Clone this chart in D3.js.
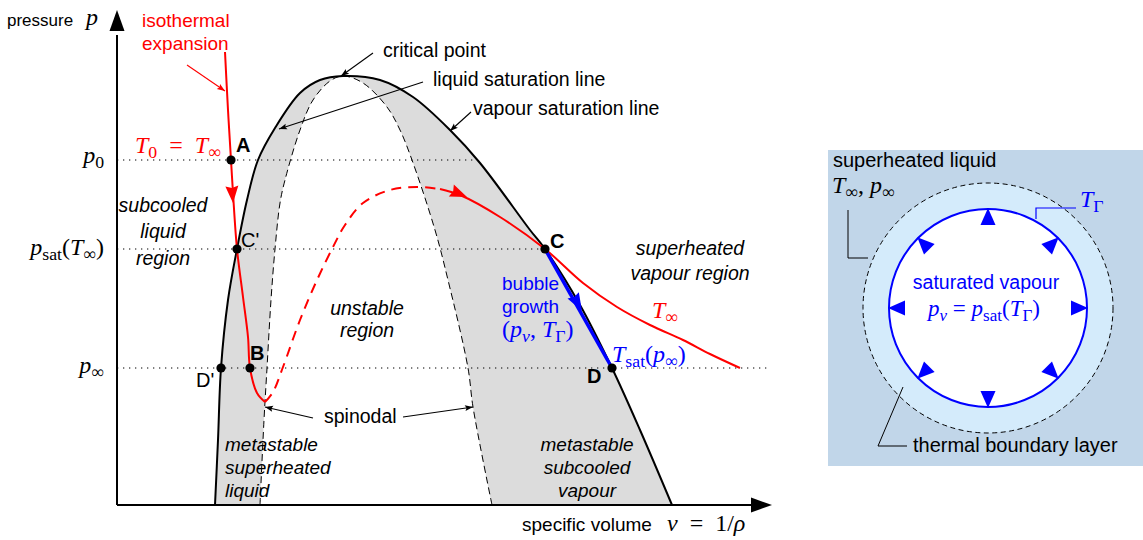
<!DOCTYPE html>
<html><head><meta charset="utf-8">
<script src="https://cdn.jsdelivr.net/npm/d3@7/dist/d3.min.js"></script>
<style>html,body{margin:0;padding:0;background:#fff;} svg{display:block;} text{white-space:pre;}</style>
</head><body>
<svg id="chart" width="1143" height="540"></svg>
<script>
// ---------------- data: specific volume v, pressure p (arbitrary units) ----------------
const saturationDome = [[98,0],[101,65],[104,137],[111,205],[120,256],[130,305],[141,345],[158,377],[183,412],[203,425],[226,429],[263,425],[296,408],[333,375],[363,342],[413,275],[428,256],[463,200],[495,137],[523,75],[555,0]];
const spinodal = [[143,0],[147,85],[150,137],[154,205],[158,256],[163,302],[168,325],[183,375],[196,405],[213,424],[226,429],[246,422],[270,398],[283,375],[295,345],[318,275],[331,225],[351,137],[356,98],[375,0]];
const isothermLiquid = [[108,453],[111,395],[114,345],[116,312],[120,256],[126,208],[131,168],[133,137],[140,112],[148,103]];
const isothermUnstable = [[148,103],[156,113],[166,138],[183,185],[200,225],[216,258],[228,280],[246,302],[273,315],[300,318],[323,316]];
const isothermVapour = [[323,316],[343,310],[383,288],[428,256],[466,222],[500,198],[533,180],[566,165],[593,151],[623,137]];
const bubbleGrowth = [[428,256],[495,137]];
const pressureLevels = [
  {name:"p0",   p:345, vEnd:360},
  {name:"psat", p:256, vEnd:428},
  {name:"pinf", p:137, vEnd:653}
];
const statePoints = [
  {id:"A",  v:114, p:345}, {id:"C'", v:120, p:256}, {id:"C", v:428, p:256},
  {id:"D'", v:104, p:137}, {id:"B",  v:133, p:137}, {id:"D", v:495, p:137}
];
const bubbleArrowAngles = [0,45,90,135,180,225,270,315];

// ---------------- setup ----------------
const W = 1143, H = 540;
const SANS = "'Liberation Sans', Arial, sans-serif";
const SERIF = "'Liberation Serif', 'Times New Roman', serif";
const RED = "#ff0000", BLUE = "#0000ff", GRAY = "#dcdcdc";
const EQ = "\u2002=\u2002";
const EQ2 = "\u2005=\u2005";
const svg = d3.select("#chart");
const x = d3.scaleLinear().domain([0, 653]).range([117, 770]);
const y = d3.scaleLinear().domain([0, 495]).range([505, 10]);
const curve = d3.line().x(d => x(d[0])).y(d => y(d[1])).curve(d3.curveCatmullRom.alpha(0.5));
const straight = d3.line().x(d => x(d[0])).y(d => y(d[1]));

function arrowHead(g, tip, dir, len, wid, color, notch) {
  const a = Math.atan2(dir[1], dir[0]) * 180 / Math.PI;
  const n = notch || 0;
  g.append("path")
    .attr("d", `M0,0 L${-len},${-wid/2} L${-len + n},0 L${-len},${wid/2} Z`)
    .attr("transform", `translate(${tip[0]},${tip[1]}) rotate(${a})`)
    .attr("fill", color);
}
function richText(g, px, py, segs, o) {
  o = o || {};
  const size = o.size || 20;
  const t = g.append("text").attr("x", px).attr("y", py)
    .attr("font-size", size).attr("fill", o.color || "#000")
    .attr("text-anchor", o.anchor || "start")
    .attr("font-family", o.math ? SERIF : SANS)
    .attr("font-style", o.italic ? "italic" : "normal")
    .attr("font-weight", o.bold ? "bold" : "normal");
  if (typeof segs === "string") { t.text(segs); return t; }
  let cur = 0;
  segs.forEach(([s, k]) => {
    const ts = t.append("tspan").text(s);
    const sub = k.startsWith("sub");
    const target = sub ? size * 0.22 : 0;
    if (target !== cur) { ts.attr("dy", target - cur); cur = target; }
    ts.attr("font-style", (k === "i" || k === "subi") ? "italic" : "normal");
    if (sub) ts.attr("font-size", size * 0.74);
  });
  return t;
}
const L = (g, v, p, segs, o) => richText(g, x(v), y(p), segs, o);

// ---------------- regions ----------------
const gFill = svg.append("g");
gFill.append("path").attr("d", curve(saturationDome) + "Z").attr("fill", GRAY);
gFill.append("path").attr("d", curve(spinodal) + "Z").attr("fill", "#fff");

// dotted pressure levels
const gLev = svg.append("g");
pressureLevels.forEach(l => {
  gLev.append("path").attr("d", straight([[0, l.p], [l.vEnd, l.p]]))
    .attr("stroke", "#000").attr("stroke-width", 1).attr("stroke-dasharray", "1.3 4.7").attr("fill", "none");
});

// spinodal & dome lines
svg.append("path").attr("d", curve(spinodal)).attr("fill", "none").attr("stroke", "#000")
  .attr("stroke-width", 1).attr("stroke-dasharray", "7 4");
svg.append("path").attr("d", curve(saturationDome)).attr("fill", "none").attr("stroke", "#000").attr("stroke-width", 2);

// axes
const gAx = svg.append("g");
gAx.append("path").attr("d", straight([[0, 0], [0, 470]])).attr("stroke", "#000").attr("stroke-width", 2);
arrowHead(gAx, [x(0), y(495)], [0, -1], 21, 15, "#000");
gAx.append("path").attr("d", straight([[0, 0], [635, 0]])).attr("stroke", "#000").attr("stroke-width", 2);
arrowHead(gAx, [x(655), y(0)], [1, 0], 21, 15, "#000");

// isotherm
svg.append("path").attr("d", curve(isothermLiquid)).attr("fill", "none").attr("stroke", RED).attr("stroke-width", 2);
svg.append("path").attr("d", curve(isothermUnstable)).attr("fill", "none").attr("stroke", RED).attr("stroke-width", 2).attr("stroke-dasharray", "10 7");
svg.append("path").attr("d", curve(isothermVapour)).attr("fill", "none").attr("stroke", RED).attr("stroke-width", 2);
arrowHead(svg, [x(116), y(302)], [3, 45], 17, 13, RED, 2);
arrowHead(svg, [x(350), y(308)], [1, 0.42], 17, 13, RED, 2);

// bubble growth
svg.append("path").attr("d", straight(bubbleGrowth)).attr("fill", "none").attr("stroke", BLUE).attr("stroke-width", 3.5);
arrowHead(svg, [x(465), y(194)], [67, 119], 18, 13, BLUE, 2);

// state points
svg.append("g").selectAll("circle").data(statePoints).join("circle")
  .attr("cx", d => x(d.v)).attr("cy", d => y(d.p)).attr("r", 4.6).attr("fill", "#000");

// annotation arrows
const ann = [
  {from:[256,452], to:[224,429], c:"#000"},
  {from:[306,423], to:[162,376], c:"#000"},
  {from:[354,393], to:[333,374], c:"#000"},
  {from:[70,440],  to:[108,414], c:RED},
  {from:[196,87],  to:[148,98],  c:"#000"},
  {from:[286,88],  to:[356,98],  c:"#000"}
];
ann.forEach(a => {
  svg.append("path").attr("d", straight([a.from, a.to])).attr("stroke", a.c).attr("stroke-width", 1.1);
  arrowHead(svg, [x(a.to[0]), y(a.to[1])], [x(a.to[0]) - x(a.from[0]), y(a.to[1]) - y(a.from[1])], 8, 6, a.c, 1.5);
});

// ---------------- labels ----------------
const gT = svg.append("g");
const M = 24; // math font size
L(gT, -110, 479, "pressure", {size:17});
L(gT, -31, 480, [["p","i"]], {math:true, size:M});
L(gT, 25, 478, "isothermal", {size:19, color:RED});
L(gT, 25, 455, "expansion", {size:19, color:RED});
L(gT, 18, 352, [["T","i"],["0","subr"],[EQ,"r"],["T","i"],["∞","subr"]], {math:true, size:M, color:RED});
L(gT, 119, 353, "A", {size:20, bold:true});
L(gT, 266, 448, "critical point", {size:19.5});
L(gT, 316, 419, "liquid saturation line", {size:19.5});
L(gT, 356, 390, "vapour saturation line", {size:19.5});
L(gT, 46, 293, "subcooled", {size:19.5, italic:true, anchor:"middle"});
L(gT, 46, 267, "liquid", {size:19.5, italic:true, anchor:"middle"});
L(gT, 46, 240, "region", {size:19.5, italic:true, anchor:"middle"});
L(gT, 124, 258, "C'", {size:20});
L(gT, 433, 257, "C", {size:20, bold:true});
L(gT, 573, 250, "superheated", {size:19.5, italic:true, anchor:"middle"});
L(gT, 573, 225, "vapour region", {size:19.5, italic:true, anchor:"middle"});
L(gT, 250, 190, "unstable", {size:19.5, italic:true, anchor:"middle"});
L(gT, 250, 168, "region", {size:19.5, italic:true, anchor:"middle"});
L(gT, 385, 215, "bubble", {size:19, color:BLUE});
L(gT, 385, 192, "growth", {size:19, color:BLUE});
L(gT, 385, 168, [["(","r"],["p","i"],["v","subi"],[", ","r"],["T","i"],["Γ","subr"],[")","r"]], {math:true, size:M, color:BLUE});
L(gT, 535, 187, [["T","i"],["∞","subr"]], {math:true, size:M, color:RED});
L(gT, 495, 143, [["T","i"],["sat","subr"],["(","r"],["p","i"],["∞","subr"],[")","r"]], {math:true, size:M, color:BLUE});
L(gT, 133, 145, "B", {size:20, bold:true});
L(gT, 79, 118, "D'", {size:20});
L(gT, 470, 122, "D", {size:20, bold:true});
L(gT, 207, 82, "spinodal", {size:19.5});
L(gT, 108, 54, "metastable", {size:19, italic:true});
L(gT, 108, 31, "superheated", {size:19, italic:true});
L(gT, 108, 8, "liquid", {size:19, italic:true});
L(gT, 470, 54, "metastable", {size:19, italic:true, anchor:"middle"});
L(gT, 470, 31, "subcooled", {size:19, italic:true, anchor:"middle"});
L(gT, 470, 8, "vapour", {size:19, italic:true, anchor:"middle"});
L(gT, 405, -26, "specific volume", {size:19});
L(gT, 550, -26, [["v","i"],[EQ + "1/","r"],["ρ","i"]], {math:true, size:M});
L(gT, -13, 342, [["p","i"],["0","subr"]], {math:true, size:M, anchor:"end"});
L(gT, -13, 250, [["p","i"],["sat","subr"],["(","r"],["T","i"],["∞","subr"],[")","r"]], {math:true, size:M, anchor:"end"});
L(gT, -13, 132, [["p","i"],["∞","subr"]], {math:true, size:M, anchor:"end"});

// ---------------- bubble panel ----------------
const panel = svg.append("g");
const cx = 988, cy = 308, rOuter = 125, rInner = 99;
panel.append("rect").attr("x", 828).attr("y", 150).attr("width", W - 828).attr("height", 316).attr("fill", "#c1d6e9");
panel.append("circle").attr("cx", cx).attr("cy", cy).attr("r", rOuter).attr("fill", "#d4ebfb")
  .attr("stroke", "#000").attr("stroke-width", 1).attr("stroke-dasharray", "5 3.5");
panel.append("circle").attr("cx", cx).attr("cy", cy).attr("r", rInner).attr("fill", "#fff")
  .attr("stroke", BLUE).attr("stroke-width", 2);
bubbleArrowAngles.forEach(a => {
  const r = a * Math.PI / 180;
  const dir = [Math.cos(r), -Math.sin(r)];
  arrowHead(panel, [cx + (rInner + 1) * dir[0], cy + (rInner + 1) * dir[1]], dir, 17, 15, BLUE, 0);
});
panel.append("path").attr("d", "M848,210 L848,258 L868,258").attr("fill", "none").attr("stroke", "#000").attr("stroke-width", 1);
panel.append("path").attr("d", "M1036,219 L1036,208 L1076,208").attr("fill", "none").attr("stroke", BLUE).attr("stroke-width", 1.2);
panel.append("path").attr("d", "M903,387 L878,446 L907,446").attr("fill", "none").attr("stroke", "#000").attr("stroke-width", 1);
richText(panel, 833, 167, "superheated liquid", {size:20});
richText(panel, 832, 193, [["T","i"],["∞","subr"],[", ","r"],["p","i"],["∞","subr"]], {math:true, size:M});
richText(panel, 1080, 207, [["T","i"],["Γ","subr"]], {math:true, size:M, color:BLUE});
richText(panel, 986, 289, "saturated vapour", {size:19.5, color:BLUE, anchor:"middle"});
richText(panel, 984, 316, [["p","i"],["v","subi"],[EQ2,"r"],["p","i"],["sat","subr"],["(","r"],["T","i"],["Γ","subr"],[")","r"]], {math:true, size:M - 1, color:BLUE, anchor:"middle"});
richText(panel, 913, 452, "thermal boundary layer", {size:20});
</script>
</body></html>
